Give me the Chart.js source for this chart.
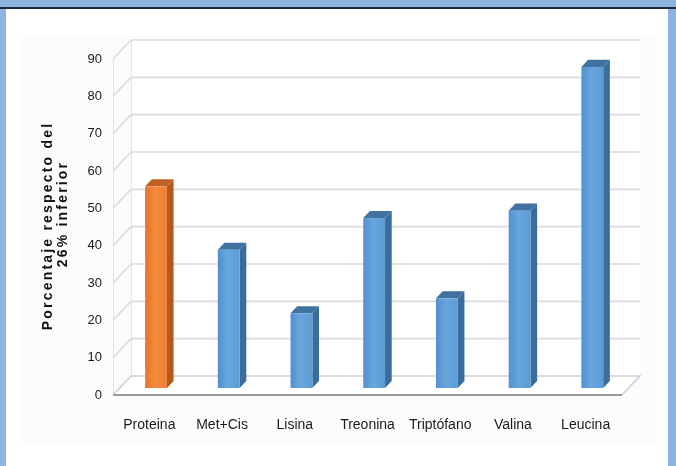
<!DOCTYPE html>
<html lang="es">
<head>
<meta charset="utf-8">
<title>Porcentaje respecto del 26% inferior</title>
<script src="https://cdn.jsdelivr.net/npm/chart.js@4.4.1/dist/chart.umd.min.js"></script>
<style>
  html, body { margin: 0; padding: 0; }
  body { width: 676px; height: 466px; overflow: hidden; background: #8db4e2; position: relative; }
  #topline { position: absolute; left: 0; top: 7px; width: 676px; height: 2px; background: #1d2a3a; }
  #panel { position: absolute; left: 6px; top: 9px; width: 662px; height: 457px; background: #ffffff; }
  #plotbg { position: absolute; left: 22px; top: 36px; width: 634px; height: 410px; background: #fcfcfc; }
  #chart { position: absolute; left: 0; top: 0; }
</style>
</head>
<body>
<div id="topline"></div>
<div id="panel"></div>
<div id="plotbg"></div>
<canvas id="chart" width="676" height="466"></canvas>
<script>
// Amino acids and protein, share relative to the lowest 26%
const categories = ['Proteina', 'Met+Cis', 'Lisina', 'Treonina', 'Triptófano', 'Valina', 'Leucina'];
const values = [54, 37, 20, 45.5, 24, 47.5, 86];
const yTicks = [0, 10, 20, 30, 40, 50, 60, 70, 80, 90];
const axisTitle = ['Porcentaje respecto del', '26% inferior'];

// Face colours for each column: front, side, top
const palette = {
  orange: { front: ['#e8732a', '#f38a3e', '#ee7d31'], side: '#b35a1f', top: '#c0621f' },
  blue:   { front: ['#5190cf', '#69a6df', '#5b9bd5'], side: '#3b6d9c', top: '#41729f' }
};
const barStyles = ['orange', 'blue', 'blue', 'blue', 'blue', 'blue', 'blue'];

// Depth of the 3D box (pixels) and where the columns sit inside it
const DEPTH_X = 18;
const DEPTH_Y = -19;
const COL_FRONT = 0.37;
const COL_BACK = 0.74;

function poly(ctx, pts, fill, stroke, lw) {
  ctx.beginPath();
  ctx.moveTo(pts[0][0], pts[0][1]);
  for (let i = 1; i < pts.length; i++) ctx.lineTo(pts[i][0], pts[i][1]);
  ctx.closePath();
  if (fill) { ctx.fillStyle = fill; ctx.fill(); }
  if (stroke) { ctx.strokeStyle = stroke; ctx.lineWidth = lw || 1; ctx.stroke(); }
}

const box3d = {
  id: 'box3d',
  beforeDatasetsDraw(chart) {
    const { ctx, chartArea: a, scales: { y } } = chart;
    ctx.save();
    const y0 = y.getPixelForValue(0);
    const yTop = y.getPixelForValue(yTicks[yTicks.length - 1]);
    // back wall and floor
    poly(ctx, [[a.left + DEPTH_X, yTop + DEPTH_Y], [a.right + DEPTH_X, yTop + DEPTH_Y],
      [a.right + DEPTH_X, y0 + DEPTH_Y], [a.left + DEPTH_X, y0 + DEPTH_Y]], '#ffffff', null);
    poly(ctx, [[a.left, y0], [a.right, y0], [a.right + DEPTH_X, y0 + DEPTH_Y], [a.left + DEPTH_X, y0 + DEPTH_Y]],
      '#ffffff', null);
    // wall edges
    ctx.strokeStyle = '#e4e4e4';
    ctx.lineWidth = 1;
    ctx.beginPath();
    ctx.moveTo(a.left + 0.5, yTop);
    ctx.lineTo(a.left + 0.5, y0);
    ctx.moveTo(a.left + DEPTH_X + 0.5, yTop + DEPTH_Y);
    ctx.lineTo(a.left + DEPTH_X + 0.5, y0 + DEPTH_Y);
    ctx.stroke();
    // grid lines on side and back wall
    ctx.strokeStyle = '#dcdcdc';
    ctx.lineWidth = 1.6;
    yTicks.forEach(t => {
      if (t === 0) return;
      const py = y.getPixelForValue(t);
      ctx.beginPath();
      ctx.moveTo(a.left, py);
      ctx.lineTo(a.left + DEPTH_X, py + DEPTH_Y);
      ctx.lineTo(a.right + DEPTH_X, py + DEPTH_Y);
      ctx.stroke();
    });
    // floor outline
    ctx.strokeStyle = '#d0d0d0';
    ctx.lineWidth = 1.6;
    ctx.beginPath();
    ctx.moveTo(a.left, y0);
    ctx.lineTo(a.left + DEPTH_X, y0 + DEPTH_Y);
    ctx.lineTo(a.right + DEPTH_X, y0 + DEPTH_Y);
    ctx.lineTo(a.right, y0);
    ctx.stroke();
    ctx.strokeStyle = '#9a9a9a';
    ctx.lineWidth = 1.8;
    ctx.beginPath();
    ctx.moveTo(a.left, y0);
    ctx.lineTo(a.right, y0);
    ctx.stroke();
    ctx.restore();
  },
  afterDatasetsDraw(chart) {
    const { ctx } = chart;
    const meta = chart.getDatasetMeta(0);
    ctx.save();
    meta.data.forEach((bar, i) => {
      const p = bar.getProps(['x', 'y', 'base', 'width'], true);
      const st = palette[barStyles[i]];
      const ox = COL_FRONT * DEPTH_X, oy = COL_FRONT * DEPTH_Y;
      const dx = (COL_BACK - COL_FRONT) * DEPTH_X, dy = (COL_BACK - COL_FRONT) * DEPTH_Y;
      const l = p.x - p.width / 2 + ox, r = p.x + p.width / 2 + ox;
      const t = p.y + oy, b = p.base + oy;
      // side
      poly(ctx, [[r, t], [r + dx, t + dy], [r + dx, b + dy], [r, b]], st.side, null);
      // top
      poly(ctx, [[l, t], [r, t], [r + dx, t + dy], [l + dx, t + dy]], st.top, null);
      // front
      const g = ctx.createLinearGradient(l, 0, r, 0);
      g.addColorStop(0, st.front[0]);
      g.addColorStop(0.45, st.front[1]);
      g.addColorStop(1, st.front[2]);
      ctx.fillStyle = g;
      ctx.fillRect(l, t, r - l, b - t);
    });
    ctx.restore();
  },
  afterDraw(chart) {
    const { ctx, chartArea: a } = chart;
    ctx.save();
    ctx.translate(48, (a.top + a.bottom) / 2 - 1);
    ctx.rotate(-Math.PI / 2);
    ctx.fillStyle = '#111';
    ctx.font = 'bold 14px "Liberation Sans", Arial, sans-serif';
    ctx.textAlign = 'center';
    ctx.textBaseline = 'middle';
    ctx.letterSpacing = '2.2px';
    ctx.fillText(axisTitle[0], 0, 0);
    ctx.fillText(axisTitle[1], 12, 15);
    ctx.restore();
  }
};

new Chart(document.getElementById('chart'), {
  type: 'bar',
  data: {
    labels: categories,
    datasets: [{
      data: values,
      backgroundColor: 'rgba(0,0,0,0)',
      borderWidth: 0,
      categoryPercentage: 1,
      barPercentage: 0.3
    }]
  },
  options: {
    responsive: false,
    animation: false,
    devicePixelRatio: 1,
    layout: { padding: { left: 0, top: 59, right: 54, bottom: 0 } },
    plugins: { legend: { display: false }, tooltip: { enabled: false }, title: { display: false } },
    scales: {
      x: {
        grid: { display: false, drawTicks: false },
        border: { display: false },
        ticks: {
          padding: 22,
          color: '#1a1a1a',
          font: { family: '"Liberation Sans", Arial, sans-serif', size: 14 },
          maxRotation: 0,
          autoSkip: false
        },
        afterFit(scale) { scale.height = 71; }
      },
      y: {
        min: 0,
        max: 90,
        grid: { display: false, drawTicks: false },
        border: { display: false },
        afterBuildTicks(scale) { scale.ticks = yTicks.map(v => ({ value: v })); },
        ticks: {
          padding: 11,
          color: '#1a1a1a',
          font: { family: '"Liberation Sans", Arial, sans-serif', size: 13 }
        },
        afterFit(scale) { scale.width = 113; }
      }
    }
  },
  plugins: [box3d]
});
</script>
</body>
</html>
